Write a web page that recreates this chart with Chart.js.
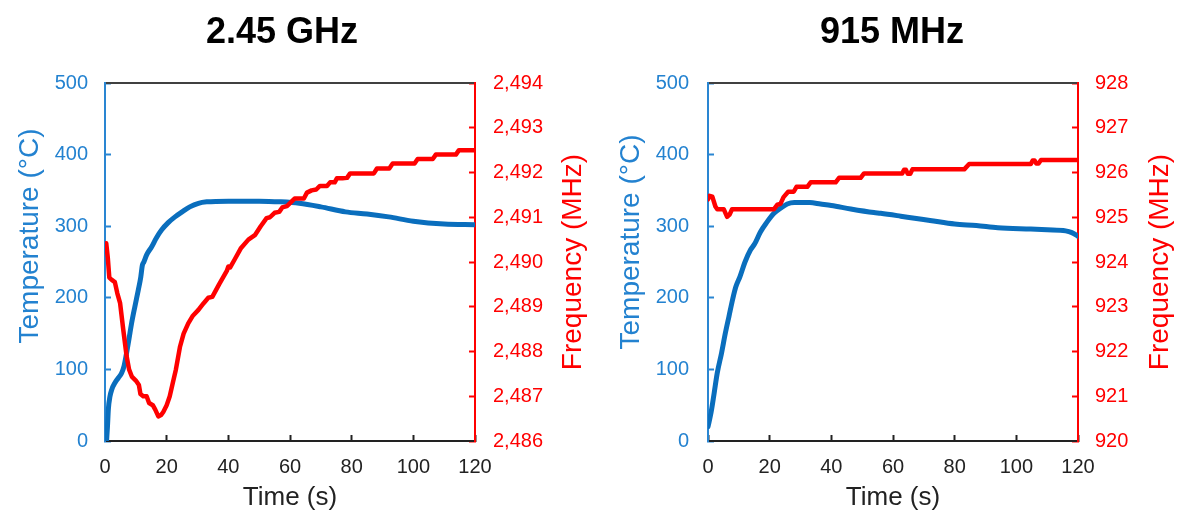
<!DOCTYPE html>
<html><head><meta charset="utf-8">
<script src="https://cdn.jsdelivr.net/npm/chart.js@4/dist/chart.umd.min.js"></script>
<style>
html,body{margin:0;padding:0;background:#fff;width:1178px;height:515px;overflow:hidden;}
.box{position:absolute;top:0;height:515px;}
#b1{left:0;width:600px;}
#b2{left:589px;width:589px;}
canvas{display:block;}
</style></head><body>
<div class="box" id="b1"><canvas id="c1"></canvas></div>
<div class="box" id="b2"><canvas id="c2"></canvas></div>
<script>
// ---------- DATA ----------
const panelTitles = ['2.45 GHz', '915 MHz'];
const xTitle = 'Time (s)';
const tempTitle = 'Temperature (°C)';
const freqTitle = 'Frequency (MHz)';
const timeTicks = [0, 20, 40, 60, 80, 100, 120];
const tempTicks = [0, 100, 200, 300, 400, 500];
const freqTicksA = [2486, 2487, 2488, 2489, 2490, 2491, 2492, 2493, 2494];
const freqTicksB = [920, 921, 922, 923, 924, 925, 926, 927, 928];

// 2.45 GHz temperature
const timeTempA = [0.5,0.8,1.1,1.6,2.2,3.2,4.3,5.4,6.2,7,7.8,8.6,9.7,10.8,11.6,12.1,12.6,13.5,15.1,16.7,18.4,20.5,22.7,25,27.5,30.3,33,40,50,57,63,70,78,85,92,100,110,120];
const tempA     = [0,20,45,62,72,81,88,95,105,123,143,164,188,211,229,245,250,260,271,284,295,305,313,320,327,332,334,335,335,334,332,327,320,317,313,307,303,302];

// 2.45 GHz frequency
const timeFreqA = [0.4,0.9,1.4,2.2,3.2,4.0,4.9,5.9,7.0,7.8,8.7,10,11.0,11.5,12.4,13.5,14.3,15.5,16.3,17.3,18.2,18.9,20.0,21.0,22.0,23.0,24.3,25.5,27,28.5,30.3,32,33.5,34.8,37,39.5,40,40.6,42,44,46.5,48.6,50.5,52.4,53.5,55,56.5,57.5,59,60.5,61.5,64.5,65.5,67,68.5,69.7,72,73,74.5,75.2,77,78.5,79.5,87.2,88.2,92.2,93.3,100.4,101.4,106.3,107.3,113.8,114.8,120];
const freqA     = [2490.42,2490.1,2489.65,2489.6,2489.55,2489.3,2489.08,2488.5,2487.9,2487.6,2487.44,2487.35,2487.25,2487.05,2487.0,2487.0,2486.85,2486.8,2486.7,2486.55,2486.58,2486.65,2486.8,2487.0,2487.3,2487.6,2488.1,2488.4,2488.63,2488.8,2488.93,2489.08,2489.2,2489.22,2489.5,2489.8,2489.9,2489.88,2490.05,2490.3,2490.5,2490.6,2490.8,2490.98,2491.0,2491.1,2491.12,2491.22,2491.25,2491.35,2491.42,2491.42,2491.55,2491.6,2491.62,2491.7,2491.7,2491.78,2491.78,2491.87,2491.87,2491.88,2491.98,2491.98,2492.09,2492.09,2492.2,2492.2,2492.3,2492.3,2492.4,2492.4,2492.5,2492.5];

// 915 MHz temperature
const timeTempB = [0,1,2,3,4.4,5.6,6.8,8,9,10.4,12,13.8,15.1,17,19,21.4,23.5,25.7,28,30,33,36.5,40,46.3,53.8,56,62.5,67,72,80,87,94,104.7,110,116,118,120];
const tempB     = [20,40,67,95,123,150,174,198,215,230,250,267,275,292,305,318,325,331,333,333,333,331,329,324,319,318,314,311,308,303,301,298,296,295,293.5,291,286];

// 915 MHz frequency
const timeFreqB = [0,0.5,1.4,2.4,3,5.1,6.2,7.0,7.8,21.4,22.5,23.5,24.5,26,27.8,28.7,32.2,33.3,41.4,42.5,49.5,50.6,63.0,63.6,64.2,64.8,65.6,66.3,83.1,84.7,104.7,105.3,105.9,106.5,107.2,108,120];
const freqB     = [925.4,925.48,925.46,925.24,925.18,925.18,925.01,925.06,925.18,925.18,925.28,925.3,925.45,925.57,925.57,925.68,925.68,925.78,925.78,925.88,925.88,925.98,925.98,926.06,926.06,925.97,925.97,926.07,926.07,926.19,926.19,926.27,926.27,926.2,926.2,926.28,926.28];

// ---------- STYLE ----------
const FONT = '"Liberation Sans", Arial, sans-serif';
const BLUE_LINE = '#0a6ebd';
const BLUE_AX = '#2a86d2';
const BLUE_TXT = '#2382d0';
const RED = '#ff0000';
const DARK = '#222222';
const TICK_SIZE = 20;

const pts = (xs, ys) => xs.map((x, i) => ({x, y: ys[i]}));
const fmt = v => Number(v).toLocaleString('en-US');

const panelTitle = {
  id: 'panelTitle',
  afterDraw(chart, args, opts) {
    const ctx = chart.ctx;
    ctx.save();
    ctx.font = 'bold 36px ' + FONT;
    ctx.fillStyle = '#000';
    ctx.textAlign = 'center';
    ctx.textBaseline = 'middle';
    ctx.fillText(opts.text, opts.x, opts.y);
    ctx.restore();
  }
};

// vertical axis titles, both reading bottom-to-top
const axisTitles = {
  id: 'axisTitles',
  afterDraw(chart, args, opts) {
    const ctx = chart.ctx;
    opts.items.forEach(it => {
      const s = chart.scales[it.scale];
      const x = it.side === 'left' ? s.left + it.offset : s.right - it.offset;
      const y = (s.top + s.bottom) / 2 + it.dy;
      ctx.save();
      ctx.translate(x, y);
      ctx.rotate(-Math.PI / 2);
      ctx.font = '28px ' + FONT;
      ctx.fillStyle = it.color;
      ctx.textAlign = 'center';
      ctx.textBaseline = 'middle';
      ctx.fillText(it.text, 0, 0);
      ctx.restore();
    });
  }
};

function makeChart(id, o) {
  return new Chart(document.getElementById(id), {
    type: 'line',
    data: {
      datasets: [
        {label: 'Frequency', data: pts(o.tf, o.f), yAxisID: 'y1', borderColor: RED, borderWidth: 4.5,
         pointRadius: 0, tension: 0, fill: false, borderJoinStyle: 'round', borderCapStyle: 'round'},
        {label: 'Temperature', data: pts(o.tt, o.t), yAxisID: 'y', borderColor: BLUE_LINE, borderWidth: 5,
         pointRadius: 0, tension: 0.3, cubicInterpolationMode: 'monotone', fill: false, borderCapStyle: 'round'}
      ]
    },
    options: {
      responsive: true, maintainAspectRatio: false, animation: false,
      layout: {padding: {top: 83, left: 0, right: 0, bottom: 0}},
      plugins: {legend: {display: false}, tooltip: {enabled: false}, title: {display: false},
        panelTitle: {text: o.title, x: o.titleX, y: 33},
        axisTitles: {items: [
          {scale: 'y', side: 'left', text: tempTitle, color: BLUE_TXT, offset: o.lOff, dy: o.lDy},
          {scale: 'y1', side: 'right', text: freqTitle, color: RED, offset: o.rOff, dy: 0}
        ]}
      },
      scales: {
        x: {type: 'linear', position: 'bottom', min: 0, max: 120,
          afterBuildTicks: s => { s.ticks = timeTicks.map(v => ({value: v})); },
          ticks: {color: DARK, font: {family: FONT, size: TICK_SIZE}, padding: 20, maxRotation: 0, autoSkip: false},
          grid: {drawOnChartArea: false, drawTicks: true, tickLength: -6, tickColor: DARK, tickWidth: 2},
          border: {display: true, color: DARK, width: 2},
          title: {display: true, text: xTitle, color: DARK, font: {family: FONT, size: 26}, padding: {top: 0, bottom: 2}},
          afterFit: s => { s.height = 74; }
        },
        x2: {type: 'linear', position: 'top', min: 0, max: 120,
          ticks: {display: false},
          grid: {drawOnChartArea: false, drawTicks: false},
          border: {display: true, color: '#404040', width: 2},
          afterFit: s => { s.height = 0; }
        },
        y: {type: 'linear', position: 'left', min: 0, max: 500,
          afterBuildTicks: s => { s.ticks = tempTicks.map(v => ({value: v})); },
          ticks: {color: BLUE_TXT, font: {family: FONT, size: TICK_SIZE}, padding: o.lPad},
          grid: {drawOnChartArea: false, drawTicks: true, tickLength: -6, tickColor: BLUE_AX, tickWidth: 2},
          border: {display: true, color: BLUE_AX, width: 2},
          title: {display: false},
          afterFit: s => { s.width = o.lW; }
        },
        y1: {type: 'linear', position: 'right', min: o.fTicks[0], max: o.fTicks[o.fTicks.length - 1],
          afterBuildTicks: s => { s.ticks = o.fTicks.map(v => ({value: v})); },
          ticks: {color: RED, font: {family: FONT, size: TICK_SIZE}, padding: o.rPad, callback: v => fmt(v)},
          grid: {drawOnChartArea: false, drawTicks: true, tickLength: -6, tickColor: RED, tickWidth: 2},
          border: {display: true, color: RED, width: 2},
          title: {display: false},
          afterFit: s => { s.width = o.rW; }
        }
      }
    },
    plugins: [panelTitle, axisTitles]
  });
}

makeChart('c1', {title: panelTitles[0], titleX: 282, tt: timeTempA, t: tempA, tf: timeFreqA, f: freqA,
  fTicks: freqTicksA, lW: 105, rW: 125, lPad: 23, rPad: 24, lOff: 30, rOff: 27, lDy: -26});
makeChart('c2', {title: panelTitles[1], titleX: 303, tt: timeTempB, t: tempB, tf: timeFreqB, f: freqB,
  fTicks: freqTicksB, lW: 119, rW: 100, lPad: 25, rPad: 23, lOff: 42, rOff: 18, lDy: -20});
</script>
</body></html>
